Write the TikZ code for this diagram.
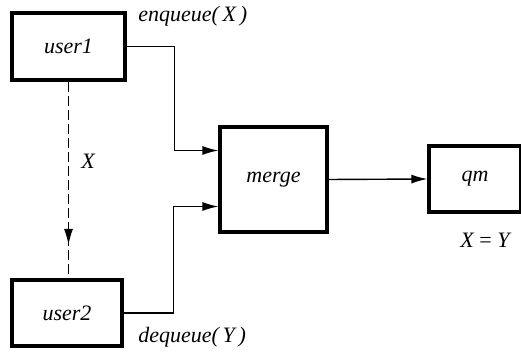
\documentclass[tikz,border=0pt]{standalone}
\usepackage{fontspec}
\setmainfont{Liberation Serif}
\usetikzlibrary{arrows.meta,decorations.markings}

\tikzset{
  box/.style={draw, line width=1.6pt, inner sep=0pt, font=\fontsize{11}{13}\selectfont\itshape},
  conn/.style={line width=0.7pt, -{Latex[length=8pt,width=4.5pt]}},
  lbl/.style={font=\fontsize{11}{13}\selectfont\itshape, inner sep=0pt}
}

\begin{document}
\begin{tikzpicture}[x=0.5pt,y=-0.5pt]
\useasboundingbox (0,0) rectangle (521,352);
% boxes
\node[box, minimum width=56.5pt, minimum height=33.5pt] (user1) at (68.5,46.5) {user1};
\node[box, minimum width=55pt, minimum height=33pt] (user2) at (67,313) {user2};
\node[box, minimum width=53.5pt, minimum height=52.5pt] (merge) at (273.5,179.5) {merge};
\node[box, minimum width=46pt, minimum height=33pt] (qm) at (475,179) {qm};
% labels
\node[lbl, anchor=west] (enq) at (138,16) {enqueue(\,X\,)};
\node[lbl, anchor=west] (deq) at (138,337) {dequeue(\,Y\,)};
\node[lbl] (lx) at (88,161) {X};
\node[lbl] (eq) at (485,240) {X {\upshape=} Y};
% arrows
\draw[conn] (user1.east) -- ++(48,0) |- ([yshift=14.5pt]merge.west);
\draw[conn] (user2.east) -- ++(50,0) |- ([yshift=-13.5pt]merge.west);
\draw[conn] (merge.east) -- (qm.west);
\draw[line width=0.7pt, dash pattern=on 5pt off 2pt,
  postaction={decorate},
  decoration={markings, mark=at position 0.83 with {\arrow{Latex[length=8pt,width=4.5pt]}}}]
  (user1.south) -- (user1.south |- user2.north);
\end{tikzpicture}
\end{document}
